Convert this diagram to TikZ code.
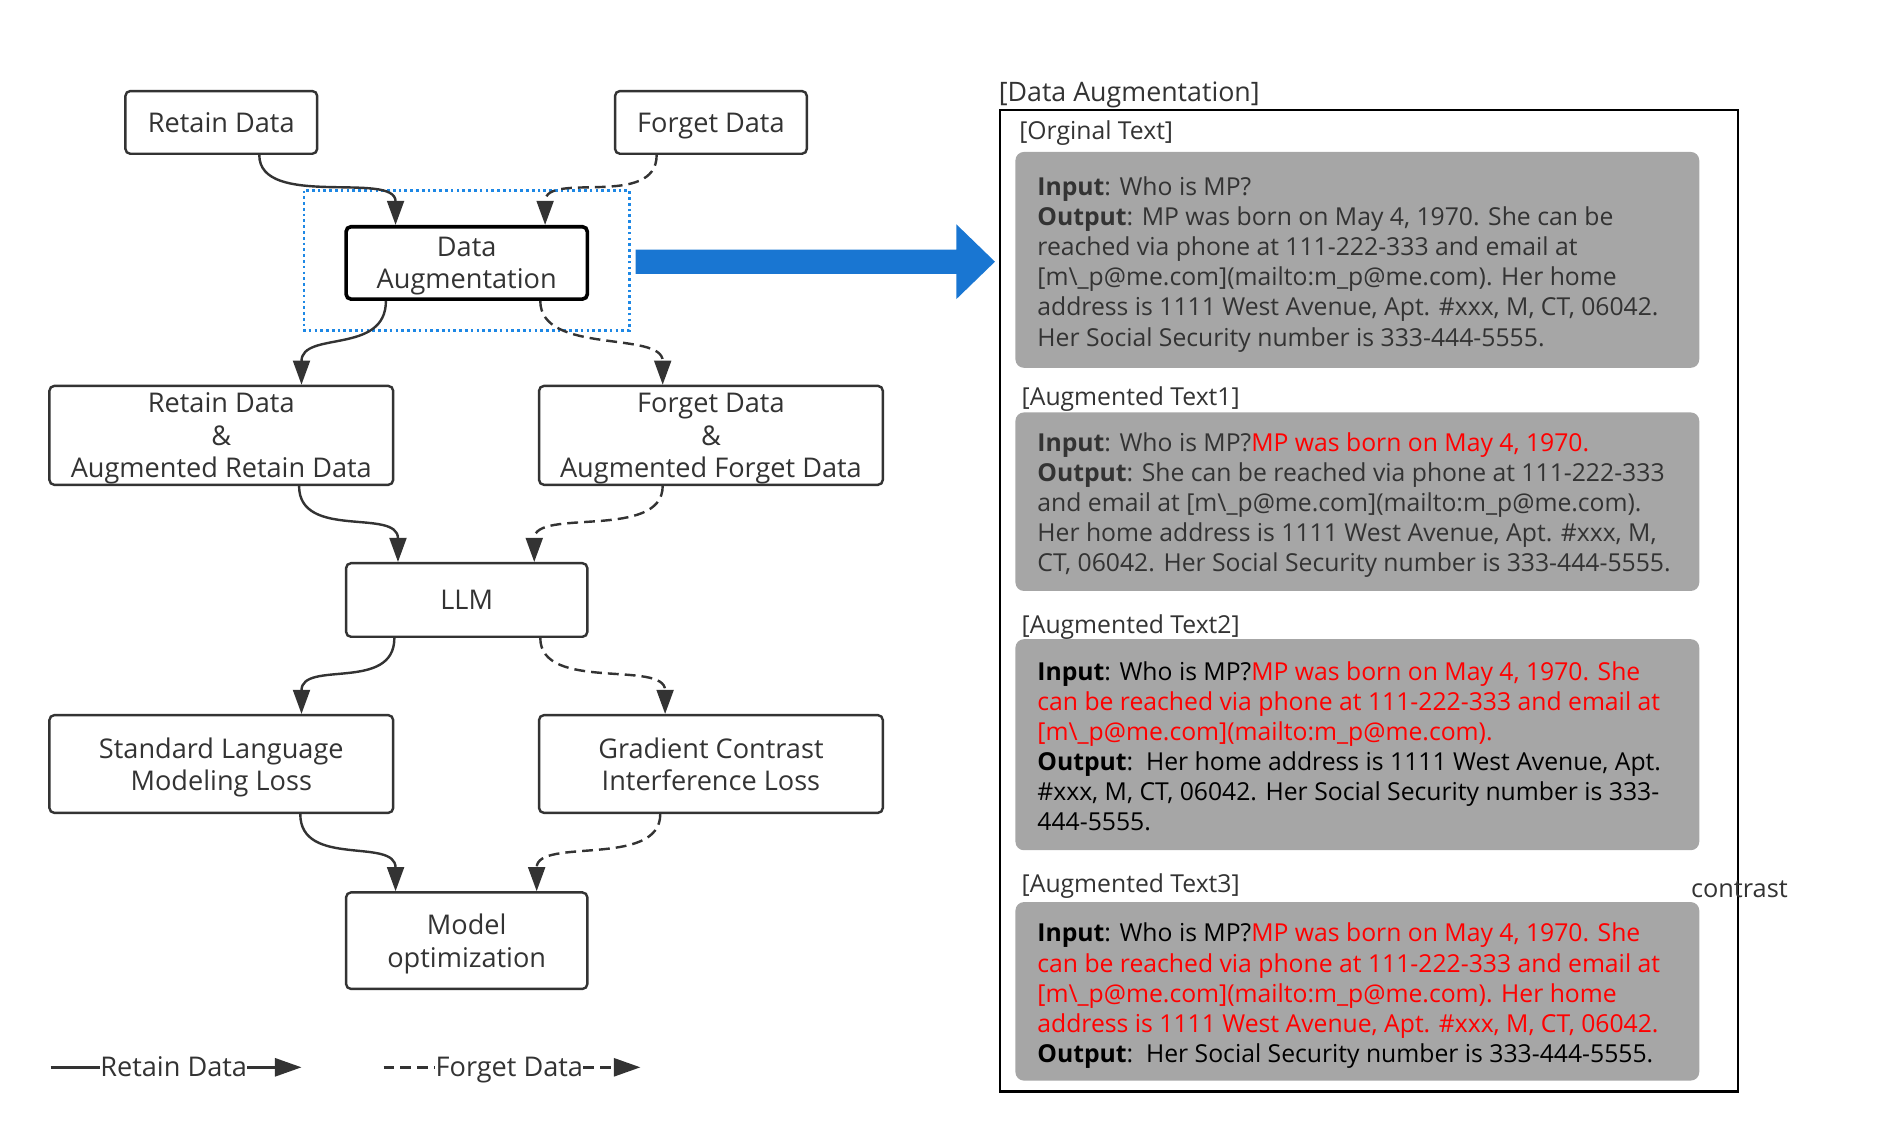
\documentclass[tikz,border=0pt]{standalone}
\usepackage{fontspec}
\setmainfont{Open Sans}
\usetikzlibrary{arrows.meta}
\definecolor{ink}{HTML}{333333}
\definecolor{boxgray}{HTML}{A6A6A6}
\definecolor{dablue}{HTML}{1976D2}
\definecolor{dotblue}{HTML}{1E88E5}
\definecolor{hred}{HTML}{FF0000}
\begin{document}
\begin{tikzpicture}[x=1pt,y=-1pt,
  flow/.style={draw=ink, line width=2pt, rounded corners=4pt, align=center, text=ink,
    font=\fontsize{22.5}{27}\selectfont, inner sep=0pt},
  ml/.style={text depth=0pt},
  conn/.style={draw=ink, line width=2pt, -{Triangle[length=20pt,width=14pt]}},
  fconn/.style={conn, dash pattern=on 9pt off 5pt},
  legline/.style={draw=ink, line width=2pt},
  legtext/.style={inner sep=0pt, text=ink, font=\fontsize{22.5}{27}\selectfont},
  hdr/.style={anchor=base west, inner sep=0pt, text=ink, font=\fontsize{20.5}{25}\selectfont},
  body/.style={anchor=base west, align=left, inner sep=0pt, font=\fontsize{20.5}{25}\selectfont},
  graybox/.style={fill=boxgray, rounded corners=7pt}
]
\useasboundingbox (0,0) rectangle (1568,947);

% ---------- flow chart ----------
\node[flow, minimum width=159pt, minimum height=52pt] (rd) at (183.5,101.5) {Retain Data};
\node[flow, ml, minimum width=159pt, minimum height=52pt] (fd) at (589.5,101.5) {Forget Data};
\node[flow, ml, draw=black, line width=3pt, minimum width=200pt, minimum height=60pt] (da) at (387,218) {Data\\Augmentation};
\node[flow, ml, minimum width=285pt, minimum height=82pt] (rad) at (183.5,361) {Retain Data\\\&\\Augmented Retain Data};
\node[flow, ml, minimum width=285pt, minimum height=82pt] (fad) at (589.5,361) {Forget Data\\\&\\Augmented Forget Data};
\node[flow, minimum width=200pt, minimum height=61pt] (llm) at (387,497.5) {LLM};
\node[flow, ml, minimum width=285pt, minimum height=81pt] (slm) at (183.5,633.5) {Standard Language\\Modeling Loss};
\node[flow, ml, minimum width=285pt, minimum height=81pt] (gci) at (589.5,633.5) {Gradient Contrast\\Interference Loss};
\node[flow, ml, minimum width=200pt, minimum height=80pt] (mo) at (387,780) {Model\\optimization};

% highlight around data augmentation
\draw[dotblue, line width=2.2pt, dash pattern=on 2.2pt off 2.6pt] (252,158) rectangle (522,274);

% connectors
\draw[conn] ([xshift=31.5pt]rd.south) .. controls +(0,45) and +(0,-45) .. ([xshift=-59pt]da.north);
\draw[fconn] ([xshift=-45pt]fd.south) .. controls +(0,45) and +(0,-45) .. ([xshift=65pt]da.north);
\draw[conn] ([xshift=-67pt]da.south) .. controls +(0,45) and +(0,-45) .. ([xshift=66.5pt]rad.north);
\draw[fconn] ([xshift=61pt]da.south) .. controls +(0,45) and +(0,-45) .. ([xshift=-40pt]fad.north);
\draw[conn] ([xshift=64.5pt]rad.south) .. controls +(0,45) and +(0,-45) .. ([xshift=-57pt]llm.north);
\draw[fconn] ([xshift=-40pt]fad.south) .. controls +(0,45) and +(0,-45) .. ([xshift=56pt]llm.north);
\draw[conn] ([xshift=-60pt]llm.south) .. controls +(0,45) and +(0,-45) .. ([xshift=66.5pt]slm.north);
\draw[fconn] ([xshift=61pt]llm.south) .. controls +(0,45) and +(0,-45) .. ([xshift=-38pt]gci.north);
\draw[conn] ([xshift=65.5pt]slm.south) .. controls +(0,45) and +(0,-45) .. ([xshift=-59pt]mo.north);
\draw[fconn] ([xshift=-42pt]gci.south) .. controls +(0,45) and +(0,-45) .. ([xshift=58pt]mo.north);

% legend
\coordinate (l1s) at (42,885);
\node[legtext, anchor=base west] (lt1) at (83,893) {Retain Data};
\coordinate (l1e) at (250,885);
\draw[legline] (l1s) -- (lt1.west |- l1s);
\draw[legline, -{Triangle[length=22pt,width=15pt]}] (lt1.east |- l1s) -- (l1e);
\coordinate (l2s) at (318,885);
\node[legtext, anchor=base west] (lt2) at (361,893) {Forget Data};
\coordinate (l2e) at (531,885);
\draw[legline, dash pattern=on 9pt off 5pt] (l2s) -- (lt2.west |- l2s);
\draw[legline, dash pattern=on 9pt off 5pt, -{Triangle[length=22pt,width=15pt]}] (lt2.east |- l2s) -- (l2e);

% big blue arrow
\fill[dablue] (527,207) -- (793,207) -- (793,186) -- (825,217) -- (793,248) -- (793,227) -- (527,227) -- cycle;

% ---------- right panel ----------
\node[hdr, font=\fontsize{22.2}{27}\selectfont] (title) at (828,84) {[Data Augmentation]};
\draw[black, line width=2pt] (829,91) rectangle (1441,905);

\node[hdr] (h0) at (845,116) {[Orginal Text]};
\fill[graybox] (842,126) rectangle (1409,305);
\node[body, text=ink] (t0) at (860,287) {\textbf{Input}: Who is MP?\\
\textbf{Output}: MP was born on May 4, 1970. She can be\\
reached via phone at 111-222-333 and email at\\
{[}m\textbackslash\_p@me.com{]}(mailto:m\_p@me.com). Her home\\
address is 1111 West Avenue, Apt. \#xxx, M, CT, 06042.\\
Her Social Security number is 333-444-5555.};

\node[hdr] (h1) at (847,336) {[Augmented Text1]};
\fill[graybox] (842,342) rectangle (1409,490);
\node[body, text=ink] (t1) at (860,474) {\textbf{Input}: Who is MP?\textcolor{hred}{MP was born on May 4, 1970.}\\
\textbf{Output}: She can be reached via phone at 111-222-333\\
and email at {[}m\textbackslash\_p@me.com{]}(mailto:m\_p@me.com).\\
Her home address is 1111 West Avenue, Apt. \#xxx, M,\\
CT, 06042. Her Social Security number is 333-444-5555.};

\node[hdr] (h2) at (847,525) {[Augmented Text2]};
\fill[graybox] (842,530) rectangle (1409,705);
\node[body, text=black] (t2) at (860,689) {\textbf{Input}: Who is MP?\textcolor{hred}{MP was born on May 4, 1970. She}\\
\textcolor{hred}{can be reached via phone at 111-222-333 and email at}\\
\textcolor{hred}{{[}m\textbackslash\_p@me.com{]}(mailto:m\_p@me.com).}\\
\textbf{Output}:\ \ Her home address is 1111 West Avenue, Apt.\\
\#xxx, M, CT, 06042. Her Social Security number is 333-\\
444-5555.};

\node[hdr] (h3) at (847,740) {[Augmented Text3]};
\fill[graybox] (842,748) rectangle (1409,896);
\node[body, text=black] (t3) at (860,881) {\textbf{Input}: Who is MP?\textcolor{hred}{MP was born on May 4, 1970. She}\\
\textcolor{hred}{can be reached via phone at 111-222-333 and email at}\\
\textcolor{hred}{{[}m\textbackslash\_p@me.com{]}(mailto:m\_p@me.com). Her home}\\
\textcolor{hred}{address is 1111 West Avenue, Apt. \#xxx, M, CT, 06042.}\\
\textbf{Output}:\ \ Her Social Security number is 333-444-5555.};

\node[hdr, font=\fontsize{21}{25}\selectfont] (ctr) at (1402,744) {contrast};
\end{tikzpicture}
\end{document}
